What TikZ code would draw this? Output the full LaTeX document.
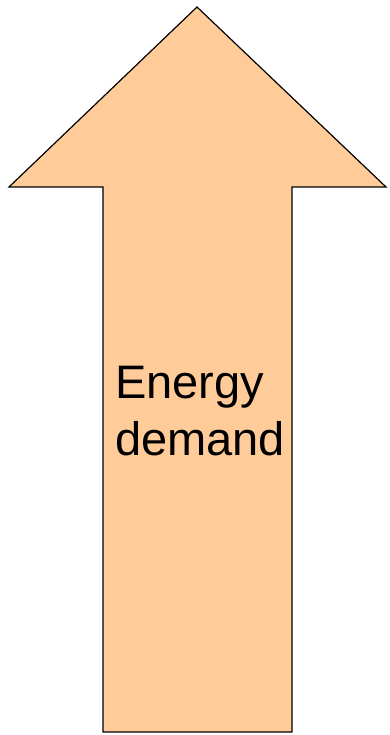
\documentclass[tikz,border=0pt]{standalone}
\usepackage{fontspec}
\setmainfont{Liberation Sans}
\usepackage{tikz}
\usetikzlibrary{positioning}

\definecolor{peach}{HTML}{FFCC99}

\begin{document}
\begin{tikzpicture}[
        x=1pt, y=-1pt,
        every node/.style={align=left, font=\fontsize{47}{57}\selectfont}
    ]
        \useasboundingbox (0,0) rectangle (390,735);
        % big up arrow
        \draw[fill=peach, line width=1.2pt, line join=miter]
            (197,7) -- (386,187) -- (292,187) -- (292,732)
            -- (103,732) -- (103,187) -- (9,187) -- cycle;
        \node[anchor=base west, inner sep=0pt] (demand) at (115,455) {Energy\\demand};
    \end{tikzpicture}
\end{document}
